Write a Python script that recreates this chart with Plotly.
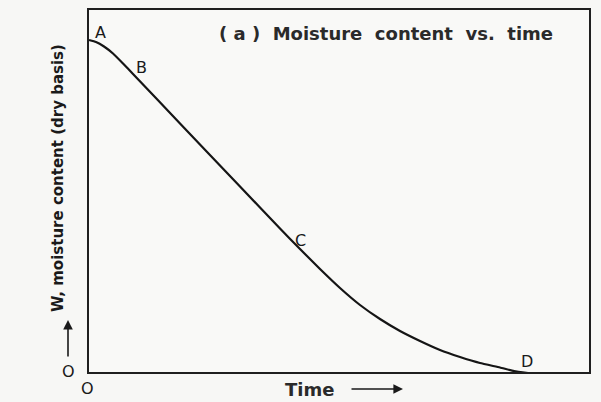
import plotly.graph_objects as go

# Curve (time, moisture) in arbitrary units
time = [1, 8, 16, 25, 35, 45, 92, 152, 192, 212, 232, 252, 272, 292, 312, 332, 352, 372, 392, 412, 426, 440]
moisture = [333, 331, 326.5, 319.5, 309.5, 299, 249.5, 186.5, 144.5, 124, 104, 85, 68, 54, 42, 32, 23, 16, 10, 5.5, 2, 0]

point_labels = ["A", "B", "C", "D"]
point_x = [12, 53, 212, 439]
point_y = [341, 306, 133, 12]

title_text = "( a )  Moisture  content  vs.  time"
y_title = "W, moisture content (dry basis)"
x_title = "Time"

XMAX, YMAX = 502, 364
W, H = 601, 402
L, R, T, B = 88, 11, 9, 29

fig = go.Figure()
fig.add_trace(go.Scatter(x=time, y=moisture, mode="lines",
                         line=dict(color="#151515", width=2.2, shape="spline", smoothing=0.4),
                         hoverinfo="skip", showlegend=False))

ink = "#1a1a1a"
font_lbl = dict(family="DejaVu Sans", size=16, color=ink)
for t, px, py in zip(point_labels, point_x, point_y):
    fig.add_annotation(x=px, y=py, text=t, showarrow=False, font=font_lbl,
                       xanchor="center", yanchor="middle")

pw = W - L - R
ph = H - T - B
def px2x(px):
    return (px - L) / pw
def py2y(py):
    return (H - B - py) / ph

fig.add_annotation(xref="paper", yref="paper", x=px2x(555), y=py2y(33), text=title_text,
                   showarrow=False, xanchor="right", yanchor="middle",
                   font=dict(family="DejaVu Sans", size=18, color="#2a2a2a", weight="bold"))

# y-axis title (rotated)
fig.add_annotation(xref="paper", yref="paper", x=px2x(58), y=py2y(178), text=y_title,
                   textangle=-90, showarrow=False, xanchor="center", yanchor="middle",
                   font=dict(family="DejaVu Sans", size=15, color=ink, weight="bold"))
# origin labels
fig.add_annotation(xref="paper", yref="paper", x=px2x(68), y=py2y(371), text="O",
                   showarrow=False, xanchor="center", yanchor="middle", font=font_lbl)
fig.add_annotation(xref="paper", yref="paper", x=px2x(87), y=py2y(388), text="O",
                   showarrow=False, xanchor="center", yanchor="middle", font=font_lbl)
# y arrow
fig.add_annotation(xref="paper", yref="paper", x=px2x(68), y=py2y(320), ax=0, ay=38,
                   text="", showarrow=True, arrowhead=2, arrowsize=1.2, arrowwidth=1.6,
                   arrowcolor=ink)
# x title + arrow
fig.add_annotation(xref="paper", yref="paper", x=px2x(283), y=py2y(389), text=x_title,
                   xanchor="left", yanchor="middle", showarrow=False,
                   font=dict(family="DejaVu Sans", size=18, color="#2a2a2a", weight="bold"))
fig.add_annotation(xref="paper", yref="paper", x=px2x(403), y=py2y(389), ax=-53, ay=0,
                   text="", showarrow=True, arrowhead=2, arrowsize=1.2, arrowwidth=1.6,
                   arrowcolor=ink)

# frame
fig.add_shape(type="rect", xref="paper", yref="paper", x0=0, y0=0, x1=1, y1=1,
              line=dict(color="#1f1f1f", width=2))

fig.update_xaxes(range=[0, XMAX], visible=False)
fig.update_yaxes(range=[0, YMAX], visible=False)
fig.update_layout(width=W, height=H, margin=dict(l=L, r=R, t=T, b=B),
                  paper_bgcolor="#f7f7f5", plot_bgcolor="#f9f9f7")

fig.write_html("out.html")
